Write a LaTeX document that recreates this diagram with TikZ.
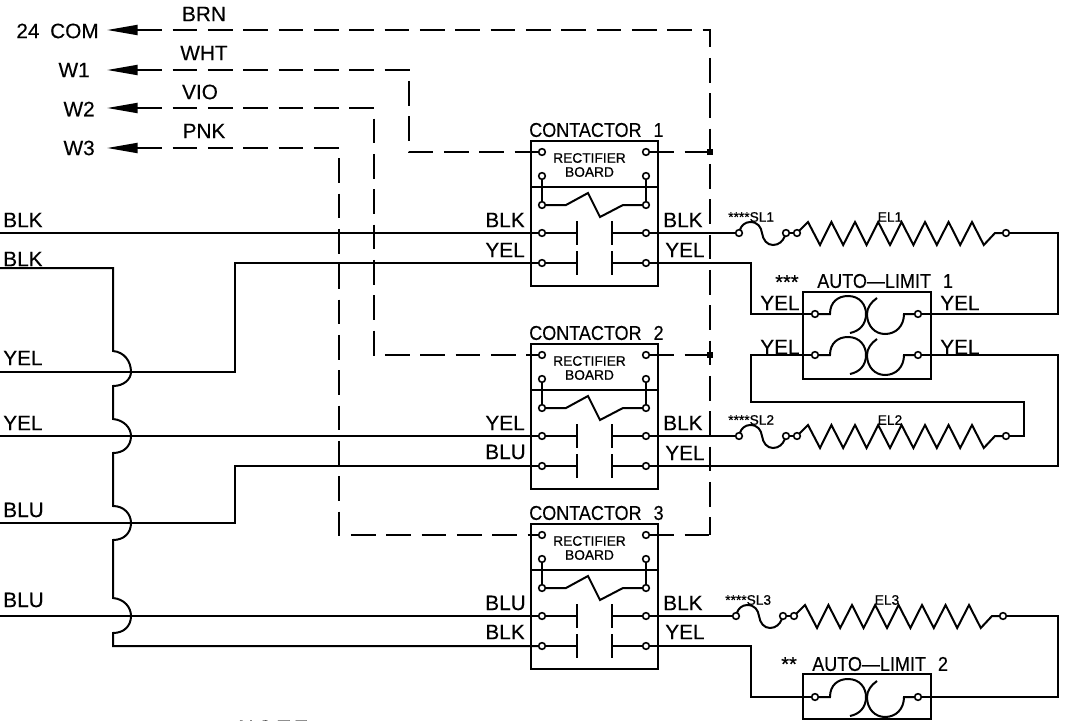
\documentclass[tikz,border=0pt]{standalone}
\usepackage{fontspec}
\setmainfont[FakeBold=0.25]{Liberation Sans}
\newfontfamily\cadn[FakeStretch=0.9,FakeBold=0.25]{Liberation Sans}
\newfontfamily\cadb[FakeBold=0.7]{Liberation Sans}
\usetikzlibrary{arrows.meta,calc}
\tikzset{
  wire/.style={line width=1.5pt,line join=miter},
  dwire/.style={wire,dash pattern=on 18.5pt off 8pt},
  frame/.style={draw,line width=1.5pt,inner sep=0pt,outer sep=0pt},
  term/.style={circle,draw,fill=white,line width=1.2pt,minimum size=5pt,inner sep=0pt,outer sep=0pt},
  junction/.style={rectangle,fill=black,minimum size=4pt,inner sep=0pt,outer sep=0pt},
  lab/.style={inner sep=0pt,font=\fontsize{15.6}{16}\selectfont},
  nar/.style={inner sep=0pt,font=\cadn\fontsize{15}{16}\selectfont},
  small/.style={inner sep=0pt,font=\cadb\fontsize{10.3}{11}\selectfont},
  tiny/.style={inner sep=0pt,font=\cadb\fontsize{10.3}{10.5}\selectfont,align=center},
  tip/.style={{Triangle[length=23pt,width=7.5pt]}-}
}
% contactor: prefix, vertical shift, number
\newcommand{\contactor}[3]{%
  \begin{scope}[shift={(0,#2)}]
    \node[frame,minimum width=95.25pt,minimum height=108.75pt] (#1box) at (594.5,213.5) {};
    \node[nar,anchor=west] (#1title) at (529,130) {CONTACTOR\hspace{9pt}#3};
    \node[tiny] (#1rect) at (589.5,165) {RECTIFIER\\BOARD};
    \coordinate (#1il) at (531,187);
    \coordinate (#1ir) at (658,187);
    \draw[wire] (#1il) -- (#1ir);
    \node[term] (#1tl) at (542,152) {};
    \node[term] (#1tr) at (646,152) {};
    \node[term] (#1ul) at (542,176) {};
    \node[term] (#1ur) at (646,176) {};
    \node[term] (#1cl) at (542,205) {};
    \node[term] (#1cr) at (646,205) {};
    \node[term] (#1al) at (542,233) {};
    \node[term] (#1ar) at (646,233) {};
    \node[term] (#1bl) at (542,263) {};
    \node[term] (#1br) at (646,263) {};
    \draw[wire] (#1ul) -- (#1cl);
    \draw[wire] (#1ur) -- (#1cr);
    \draw[wire] (#1cl) -- (566,205) -- (588,193) -- (600,217) -- (623,205) -- (#1cr);
    \coordinate (#1p1) at (577,233);
    \coordinate (#1p2) at (612,233);
    \coordinate (#1q1) at (577,263);
    \coordinate (#1q2) at (612,263);
    \draw[wire] (#1al) -- (#1p1);
    \draw[wire] (#1ar) -- (#1p2);
    \draw[wire] (#1bl) -- (#1q1);
    \draw[wire] (#1br) -- (#1q2);
    \draw[wire] (577,221) -- (577,245);
    \draw[wire] (612,221) -- (612,245);
    \draw[wire] (577,251) -- (577,275);
    \draw[wire] (612,251) -- (612,275);
  \end{scope}}
% fuse link and heater: prefix, x shift, y shift, fuse text, heater text
\newcommand{\heater}[5]{%
  \begin{scope}[shift={(#2,#3)}]
    \node[small,anchor=west] (#1ft) at (728,217) {#4};
    \node[small] (#1ht) at (890,217) {#5};
    \node[term] (#1f) at (739,233) {};
    \node[term] (#1g) at (786,233) {};
    \node[term] (#1h) at (797,233) {};
    \node[term] (#1e) at (1006,233) {};
    \draw[wire] (#1f) .. controls (741,226) and (745,222) .. (750,222)
      .. controls (758,222) and (761,227) .. (762,233)
      .. controls (763,240) and (767,245) .. (773,245)
      .. controls (779,245) and (783,241) .. (#1g);
    \draw[wire] (#1h) -- (808,222) -- (820,245) -- (831.4,222) -- (843.2,245) -- (855,222)
      -- (866.6,245) -- (878.2,222) -- (890,245) -- (901.6,222) -- (913.4,245) -- (925,222)
      -- (936.8,245) -- (948.6,222) -- (960.2,245) -- (972,222) -- (983.8,245) -- (995,233) -- (#1e);
  \end{scope}}
% limit symbol: prefix, y of wire
\newcommand{\limitsym}[2]{%
  \node[term] (#1l) at (815,#2) {};
  \node[term] (#1r) at (918,#2) {};
  \begin{scope}[shift={(0,#2)}]
    \draw[wire] (#1l) -- (830,0) .. controls (830,-12) and (838,-18) .. (848,-18)
      .. controls (860,-18) and (866,-9) .. (866,0) .. controls (866,10) and (860,17) .. (850,19);
    \draw[wire] (877,-16) .. controls (871,-12) and (867,-6) .. (867,0)
      .. controls (867,12) and (875,20) .. (885,20) .. controls (896,20) and (904,12) .. (904,0) -- (#1r);
  \end{scope}}
\begin{document}
\begin{tikzpicture}[x=0.75pt,y=-0.75pt]
\useasboundingbox (0,0) rectangle (1068,721);
\fill[white] (0,0) rectangle (1068,721);
\clip (0,0) rectangle (1068,721);

\contactor{ca}{0}{1}
\contactor{cb}{203}{2}
\contactor{cc}{383}{3}
\heater{ha}{0}{0}{****SL1}{EL1}
\heater{hb}{0}{203}{****SL2}{EL2}
\heater{hc}{-3}{383}{****SL3}{EL3}

% limit boxes
\node[frame,minimum width=96pt,minimum height=65.25pt] (lim1) at (867,335.5) {};
\node[frame,minimum width=96pt,minimum height=33.75pt] (lim2) at (867,696.5) {};
\limitsym{la}{314}
\limitsym{lb}{355}
\limitsym{lc}{697}

% control side
\node[lab,anchor=east] (n24) at (99,31) {24\hspace{8pt}COM};
\node[lab,anchor=east] (nw1) at (90,70) {W1};
\node[lab,anchor=east] (nw2) at (95,109) {W2};
\node[lab,anchor=east] (nw3) at (95,148) {W3};
\node[lab] (tbrn) at (204,14) {BRN};
\node[lab] (twht) at (204,53) {WHT};
\node[lab] (tvio) at (200,92) {VIO};
\node[lab] (tpnk) at (204,131) {PNK};
\coordinate (a24) at (107,30);
\coordinate (aw1) at (107,70);
\coordinate (aw2) at (107,108);
\coordinate (aw3) at (107,148);
\node[junction] (ja) at (710,152) {};
\node[junction] (jb) at (710,355) {};
\coordinate (topr) at (710,30);
\coordinate (botr) at (710,535);
\draw[dwire,tip] (a24) -- (topr) -- (botr);
\draw[dwire] (cctr) -- (botr);
\draw[dwire] (catr) -- (ja);
\draw[dwire] (cbtr) -- (jb);
\draw[dwire,tip] (aw1) -- (409,70) |- (catl);
\draw[dwire,tip] (aw2) -- (374,108) |- (cbtl);
\draw[dwire,tip] (aw3) -- (339,148) |- (cctl);

% power inputs
\coordinate (in1) at (0,233);
\coordinate (in2) at (0,268);
\coordinate (in3) at (0,372);
\coordinate (in4) at (0,436);
\coordinate (in5) at (0,523);
\coordinate (in6) at (0,616);
\node[lab,anchor=west] (l1) at (3,220) {BLK};
\node[lab,anchor=west] (l2) at (3,259) {BLK};
\node[lab,anchor=west] (l3) at (3,358) {YEL};
\node[lab,anchor=west] (l4) at (3,423) {YEL};
\node[lab,anchor=west] (l5) at (3,510) {BLU};
\node[lab,anchor=west] (l6) at (3,600) {BLU};
\draw[wire] (in1) -- (caal);
\draw[wire] (in3) -| (235,263) -- (cabl);
\draw[wire] (in4) -- (cbal);
\draw[wire] (in5) -| (235,466) -- (cbbl);
\draw[wire] (in6) -- (ccal);
\draw[wire] (in2) -- (113,268) -- (113,351)
  .. controls (124,352) and (131,361) .. (131,372) .. controls (131,379) and (124,386) .. (113,386)
  -- (113,419)
  .. controls (124,420) and (131,428) .. (131,436) .. controls (131,446) and (124,453) .. (113,453)
  -- (113,506)
  .. controls (124,506) and (131,514) .. (131,523) .. controls (131,533) and (124,540) .. (113,540)
  -- (113,598)
  .. controls (124,599) and (131,607) .. (131,616) .. controls (131,626) and (124,633) .. (113,633)
  -- (113,646) -- (ccbl);

% power side labels
\node[lab,anchor=east] (c1a) at (525,220) {BLK};
\node[lab,anchor=east] (c1b) at (525,250) {YEL};
\node[lab,anchor=west] (c1c) at (663,220) {BLK};
\node[lab,anchor=west] (c1d) at (665,250) {YEL};
\node[lab,anchor=east] (c2a) at (525,423) {YEL};
\node[lab,anchor=east] (c2b) at (526,452) {BLU};
\node[lab,anchor=west] (c2c) at (663,423) {BLK};
\node[lab,anchor=west] (c2d) at (665,453) {YEL};
\node[lab,anchor=east] (c3a) at (526,603) {BLU};
\node[lab,anchor=east] (c3b) at (525,632) {BLK};
\node[lab,anchor=west] (c3c) at (663,603) {BLK};
\node[lab,anchor=west] (c3d) at (665,632) {YEL};
\node[lab,anchor=west] (y1) at (760,303) {YEL};
\node[lab,anchor=west] (y2) at (940,303) {YEL};
\node[lab,anchor=west] (y3) at (760,347) {YEL};
\node[lab,anchor=west] (y4) at (940,347) {YEL};
\node[nar,anchor=west] (al1) at (817,281) {AUTO—LIMIT\hspace{9pt}1};
\node[nar,anchor=west] (al2) at (812,664) {AUTO—LIMIT\hspace{9pt}2};
\node[small,anchor=west,font=\cadb\fontsize{15}{16}\selectfont] (st1) at (775,282) {***};
\node[small,anchor=west,font=\cadb\fontsize{15}{16}\selectfont] (st2) at (781,664) {**};
\node[lab,anchor=west,font=\fontsize{16}{17}\selectfont] (note) at (238,728) {N\,O\,T\,E};

% power wires
\draw[wire] (caar) -- (haf);
\draw[wire] (hag) -- (hah);
\draw[wire] (cabr) -| (751,314) -- (lal);
\draw[wire] (lar) -- (1058,314) |- (hae);
\draw[wire] (lbl) -- (751,355) |- (1024,402) |- (hbe);
\draw[wire] (lbr) -- (1058,355) |- (cbbr);
\draw[wire] (cbar) -- (hbf);
\draw[wire] (hbg) -- (hbh);
\draw[wire] (ccar) -- (hcf);
\draw[wire] (hcg) -- (hch);
\draw[wire] (ccbr) -| (751,697) -- (lcl);
\draw[wire] (lcr) -- (1058,697) |- (hce);
\end{tikzpicture}
\end{document}
